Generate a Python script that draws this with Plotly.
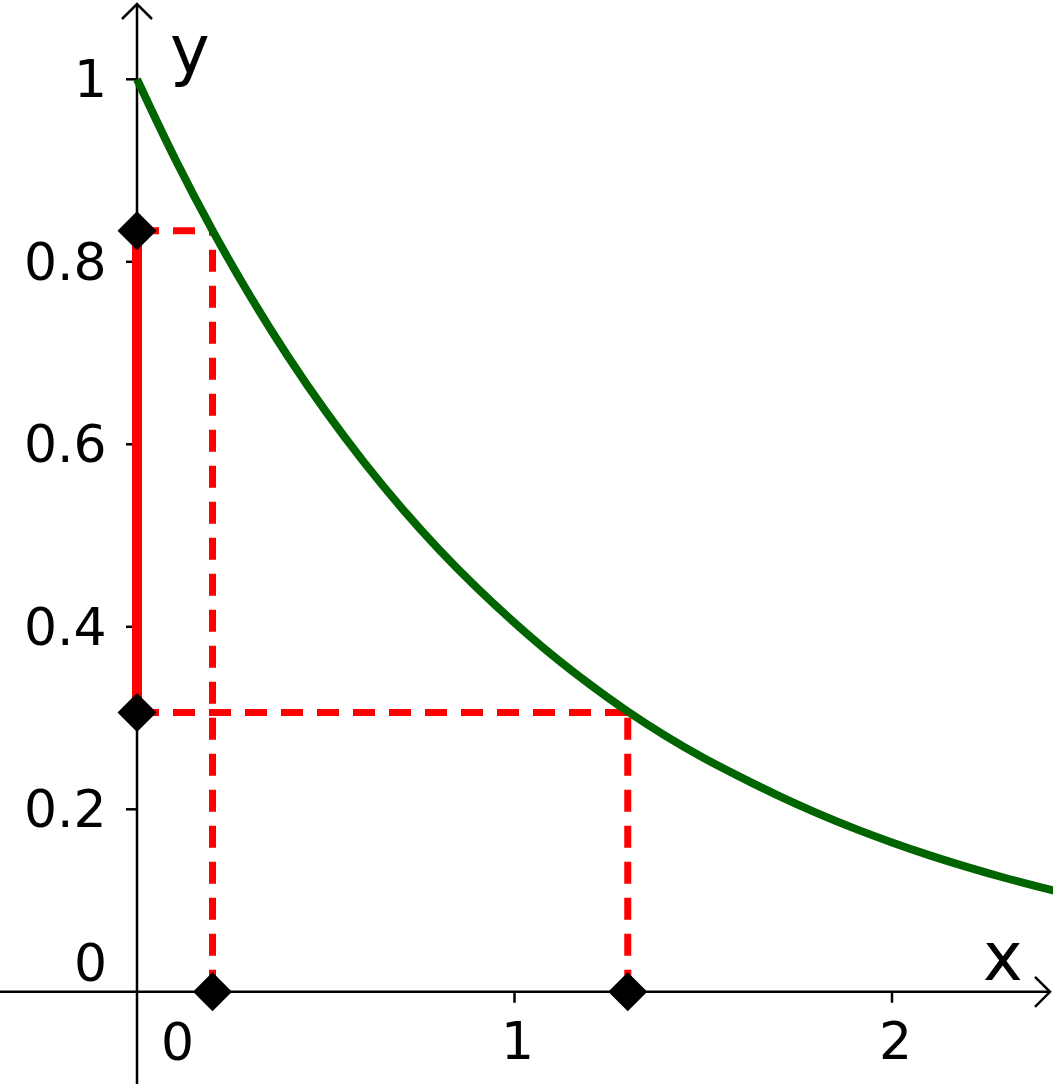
import plotly.graph_objects as go

# ---- data ----
curve_x = [0.0, 0.1, 0.2, 0.3, 0.4, 0.5, 0.6, 0.7, 0.8, 0.9, 1.0, 1.1, 1.2,
           1.3, 1.4, 1.5, 1.6, 1.7, 1.8, 1.9, 2.0, 2.1, 2.2, 2.3, 2.4, 2.45]
curve_y = [1.000, 0.9135, 0.8344, 0.7622, 0.6963, 0.6360, 0.5810, 0.5307,
           0.4848, 0.4429, 0.4045, 0.3690, 0.3368, 0.3072, 0.2805, 0.2565,
           0.2350, 0.2147, 0.1961, 0.1791, 0.1637, 0.1495, 0.1366, 0.1247,
           0.1139, 0.1089]
point_x = [0.2, 1.3]          # sample points on the x axis
point_y = [0.834, 0.306]      # their images on the y axis
x_ticks = [1, 2]
x_tick_labels = ["1", "2"]
y_ticks = [0.2, 0.4, 0.6, 0.8, 1.0]
y_tick_labels = ["0.2", "0.4", "0.6", "0.8", "1"]

# ---- pixel scale helpers ----
W, H = 1053, 1084
X0_PX, X_PER = 137.0, 377.5       # page pixel of x=0, pixels per x unit
Y0_PX, Y_PER = 991.8, 912.5       # page pixel of y=0, pixels per y unit
xr = [(0 - X0_PX) / X_PER, (W - X0_PX) / X_PER]
yr = [(Y0_PX - H) / Y_PER, Y0_PX / Y_PER]
dx = lambda px: px / X_PER
dy = lambda px: px / Y_PER

FONT = "DejaVu Sans"
fig = go.Figure()

# axes
x_tip = dx(1050 - X0_PX)
y_tip = dy(Y0_PX - 4)
x_start = dx(0 - X0_PX)
y_start = dy(Y0_PX - H)
fig.add_trace(go.Scatter(x=[x_start, x_tip], y=[0, 0], mode="lines",
                         line=dict(color="black", width=2.5), hoverinfo="skip"))
fig.add_trace(go.Scatter(x=[0, 0], y=[y_start, y_tip], mode="lines",
                         line=dict(color="black", width=2.5), hoverinfo="skip"))
# open arrow heads
fig.add_trace(go.Scatter(
    x=[x_tip - dx(15), x_tip, x_tip - dx(15), None, -dx(15), 0, dx(15)],
    y=[dy(15), 0, -dy(15), None, y_tip - dy(15), y_tip, y_tip - dy(15)],
    mode="lines", line=dict(color="black", width=2.5), hoverinfo="skip"))
# ticks
tx, ty = [], []
for t in x_ticks:
    tx += [t, t, None]
    ty += [0, -dy(11), None]
for t in y_ticks:
    tx += [-dx(11), 0, None]
    ty += [t, t, None]
fig.add_trace(go.Scatter(x=tx, y=ty, mode="lines",
                         line=dict(color="black", width=2.5), hoverinfo="skip"))

# red solid segment on y axis
fig.add_trace(go.Scatter(x=[0, 0], y=[point_y[1], point_y[0]], mode="lines",
                         line=dict(color="#ff0000", width=10), hoverinfo="skip"))
# dashed guide lines
dash = "22px,14px"
for px_, py_ in zip(point_x, point_y):
    fig.add_trace(go.Scatter(x=[px_, px_], y=[0, py_], mode="lines",
                             line=dict(color="#ff0000", width=7, dash=dash),
                             hoverinfo="skip"))
    fig.add_trace(go.Scatter(x=[0, px_], y=[py_, py_], mode="lines",
                             line=dict(color="#ff0000", width=7, dash=dash),
                             hoverinfo="skip"))

# curve
fig.add_trace(go.Scatter(x=curve_x, y=curve_y, mode="lines",
                         line=dict(color="#006400", width=8, shape="spline"),
                         hoverinfo="skip"))

# diamonds
fig.add_trace(go.Scatter(x=point_x + [0, 0], y=[0, 0] + point_y, mode="markers",
                         marker=dict(symbol="diamond", size=30, color="black",
                                     line=dict(width=0)),
                         hoverinfo="skip"))

ann = []
for t, lab in zip(x_ticks, x_tick_labels):
    ann.append(dict(x=t + dx(3), y=-dy(49), text=lab, xanchor="center",
                    yanchor="middle"))
ann.append(dict(x=dx(40), y=-dy(50), text="0", xanchor="center", yanchor="middle"))
for t, lab in zip(y_ticks, y_tick_labels):
    ann.append(dict(x=-dx(28), y=t, text=lab, xanchor="right", yanchor="middle"))
ann.append(dict(x=-dx(28), y=dy(29), text="0", xanchor="right", yanchor="middle"))
for a in ann:
    a.update(showarrow=False, font=dict(family=FONT, size=52, color="black"),
             xref="x", yref="y")
ann.append(dict(x=dx(1003 - X0_PX), y=dy(Y0_PX - 957), text="x", showarrow=False,
                xanchor="center", yanchor="middle", xref="x", yref="y",
                font=dict(family=FONT, size=67, color="black")))
ann.append(dict(x=dx(190 - X0_PX), y=dy(Y0_PX - 50), text="y", showarrow=False,
                xanchor="center", yanchor="middle", xref="x", yref="y",
                font=dict(family=FONT, size=67, color="black")))

fig.update_layout(
    width=W, height=H, margin=dict(l=0, r=0, t=0, b=0),
    paper_bgcolor="white", plot_bgcolor="white", showlegend=False,
    xaxis=dict(range=xr, visible=False, fixedrange=True),
    yaxis=dict(range=yr, visible=False, fixedrange=True),
    annotations=ann,
)
fig.write_html(
    "out.html",
    config={"displayModeBar": False, "staticPlot": True},
    post_script="document.body.style.margin='0';document.body.style.overflow='hidden';",
)
